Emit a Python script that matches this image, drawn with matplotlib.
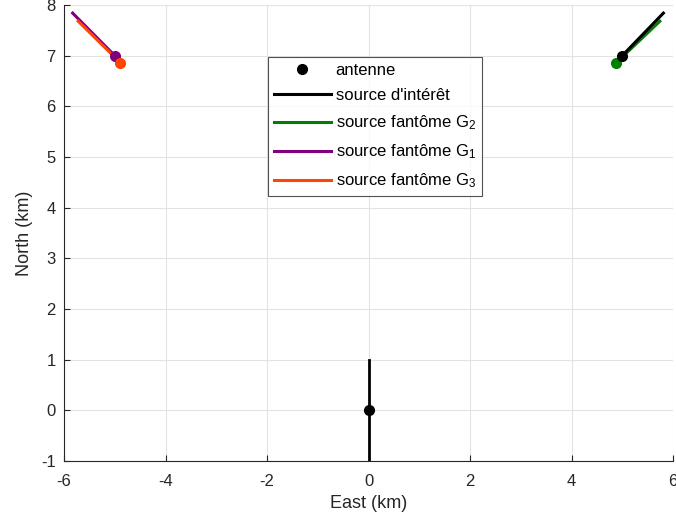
import matplotlib
matplotlib.use("Agg")
import matplotlib.pyplot as plt
from matplotlib.lines import Line2D

plt.rcParams['font.family'] = ['Liberation Sans', 'DejaVu Sans']
plt.rcParams['mathtext.fontset'] = 'custom'
plt.rcParams['mathtext.rm'] = 'Liberation Sans'
plt.rcParams['mathtext.it'] = 'Liberation Sans'
plt.rcParams['axes.unicode_minus'] = False

# Data
antenna_x = [0.0]
antenna_y = [0.0]
antenna_line_x = [0.0, 0.0]
antenna_line_y = [-1.0, 1.0]

source_x = [5.0, 5.81]
source_y = [7.0, 7.84]
g2_x = [4.88, 5.74]
g2_y = [6.86, 7.68]
g1_x = [-5.0, -5.83]
g1_y = [7.0, 7.84]
g3_x = [-4.89, -5.72]
g3_y = [6.86, 7.68]

xticks = [-6, -4, -2, 0, 2, 4, 6]
yticks = [-1, 0, 1, 2, 3, 4, 5, 6, 7, 8]

c_black = '#000000'
c_green = '#008000'
c_purple = '#800080'
c_orange = '#ff4500'
c_axis = '#262626'

fig = plt.figure(figsize=(6.76, 5.27), dpi=100)
ax = fig.add_axes([0.0947, 0.1252, 0.9009, 0.8653])

ax.plot(antenna_line_x, antenna_line_y, color=c_black, lw=2)
ax.plot(g2_x, g2_y, color=c_green, lw=2.2)
ax.plot(source_x, source_y, color=c_black, lw=2.2)
ax.plot(g1_x, g1_y, color=c_purple, lw=2.2)
ax.plot(g3_x, g3_y, color=c_orange, lw=2.2)

ax.plot(g2_x[0], g2_y[0], 'o', color=c_green, ms=7)
ax.plot(source_x[0], source_y[0], 'o', color=c_black, ms=7)
ax.plot(g1_x[0], g1_y[0], 'o', color=c_purple, ms=7)
ax.plot(g3_x[0], g3_y[0], 'o', color=c_orange, ms=7)
ax.plot(antenna_x, antenna_y, 'o', color=c_black, ms=7)

ax.set_xlim(-6, 6)
ax.set_ylim(-1, 8)
ax.set_xticks(xticks)
ax.set_yticks(yticks)
ax.tick_params(direction='in', labelsize=12, colors=c_axis, length=4)
ax.tick_params(axis='y', pad=6)
ax.tick_params(axis='x', pad=9)
ax.grid(True, color='#e3e3e3', lw=0.8)
ax.set_axisbelow(True)
for s in ['top', 'right']:
    ax.spines[s].set_visible(False)
for s in ['left', 'bottom']:
    ax.spines[s].set_color(c_axis)
    ax.spines[s].set_linewidth(0.8)
ax.set_xlabel('East (km)', fontsize=13, color=c_axis, labelpad=5)
ax.set_ylabel('North (km)', fontsize=13, color=c_axis, labelpad=6)

handles = [
    Line2D([], [], marker='o', ls='none', color=c_black, ms=7),
    Line2D([], [], color=c_black, lw=2.2),
    Line2D([], [], color=c_green, lw=2.2),
    Line2D([], [], color=c_purple, lw=2.2),
    Line2D([], [], color=c_orange, lw=2.2),
]
labels = ["antenne", "source d'intérêt", r"source fantôme G$_2$",
          r"source fantôme G$_1$", r"source fantôme G$_3$"]
leg = ax.legend(handles, labels, loc='upper left', bbox_to_anchor=(0.335, 0.886),
                fontsize=12, frameon=True, fancybox=False, edgecolor=c_axis,
                handlelength=3.4, handletextpad=0.3, labelspacing=0.62,
                borderpad=0.35, borderaxespad=0)
leg.get_frame().set_linewidth(0.8)
for t in leg.get_texts():
    t.set_color('#000000')

fig.savefig('out.png', dpi=100)
